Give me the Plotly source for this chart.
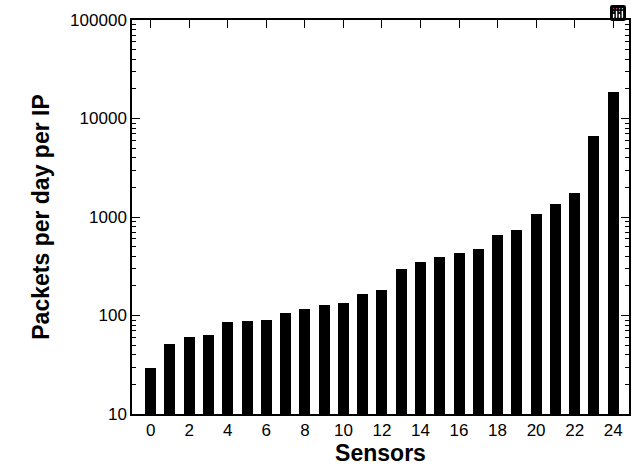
import plotly.graph_objects as go

sensors = list(range(25))
packets = [29, 51, 60, 63, 85, 87, 90, 105, 116, 128, 133, 165, 182, 296,
           349, 393, 434, 473, 652, 743, 1064, 1355, 1754, 6600, 18700]
y_tickvals = [10, 100, 1000, 10000, 100000]
y_ticktext = ["10", "100", "1000", "10000", "100000"]
x_tickvals = list(range(0, 25, 2))
x_ticktext = [str(v) for v in x_tickvals]

fig = go.Figure(go.Bar(
    x=sensors, y=packets, width=0.57,
    marker=dict(color="black", line=dict(width=0)),
))

font_family = "Liberation Sans, Arial, Helvetica, sans-serif"

fig.update_layout(
    width=632, height=470,
    margin=dict(l=132, r=1, t=20, b=56),
    paper_bgcolor="white", plot_bgcolor="white",
    showlegend=False,
    font=dict(family=font_family, color="black", size=17),
    bargap=0,
    modebar=dict(bgcolor="rgba(0,0,0,0)", color="rgba(0,0,0,0)",
                 activecolor="rgba(0,0,0,0)"),
)
fig.update_xaxes(
    range=[-0.97, 24.82],
    tickmode="array", tickvals=x_tickvals, ticktext=x_ticktext,
    ticks="inside", ticklen=8, tickwidth=1.3, tickcolor="black",
    showline=True, linecolor="black", linewidth=1.5, mirror="ticks",
    showgrid=False, zeroline=False,
    tickfont=dict(size=17),
    title=dict(text="<b>Sensors</b>", font=dict(size=23), standoff=6),
)
fig.update_yaxes(
    type="log", range=[1, 5],
    tickmode="array", tickvals=y_tickvals, ticktext=y_ticktext,
    ticks="inside", ticklen=8, tickwidth=1.3, tickcolor="black",
    minor=dict(ticks="inside", ticklen=4, tickwidth=1.2, tickcolor="black",
               dtick="D1", showgrid=False),
    showline=True, linecolor="black", linewidth=1.5, mirror="ticks",
    showgrid=False, zeroline=False,
    tickfont=dict(size=17),
    title=dict(text="<b>Packets per day per IP</b>", font=dict(size=23), standoff=14),
)

fig.write_html("out.html", post_script="document.body.style.margin='0';")
